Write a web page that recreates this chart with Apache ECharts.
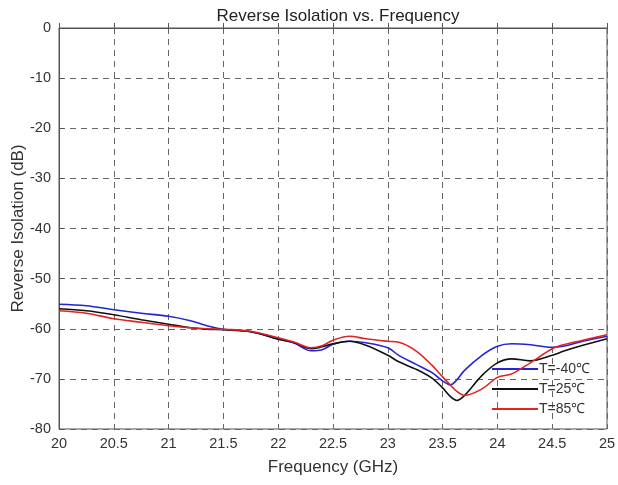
<!DOCTYPE html>
<html>
<head>
<meta charset="utf-8">
<script src="https://cdn.jsdelivr.net/npm/echarts@6/dist/echarts.min.js"></script>
<style>
  html, body { margin: 0; padding: 0; background: #fff; }
  #chart { width: 618px; height: 485px; }
</style>
</head>
<body>
<div id="chart"></div>
<script>
// Frequency sample points (GHz)
const freq = [20, 20.25, 20.5, 20.75, 21, 21.2, 21.35, 21.5, 21.75, 22, 22.15, 22.3, 22.4, 22.5, 22.65, 22.8,
              23, 23.1, 23.25, 23.4, 23.5, 23.57, 23.63, 23.7, 23.86, 24, 24.13, 24.3, 24.5, 24.6, 24.78, 25];

// Reverse isolation (dB) per temperature
const isoMinus40 = [-55.1, -55.4, -56.2, -56.9, -57.5, -58.4, -59.4, -60.1, -60.6, -62.0, -62.9, -64.4, -64.2, -63.1, -62.5, -62.8,
                    -63.8, -65.3, -67.0, -68.7, -70.4, -71.2, -70.2, -68.3, -65.3, -63.5, -63.0, -63.2, -63.7, -63.5, -62.5, -61.5];
const iso25 = [-56.0, -56.4, -57.2, -58.2, -59.1, -59.8, -60.1, -60.2, -60.6, -62.1, -62.8, -64.0, -63.6, -63.0, -62.5, -63.3,
               -65.3, -66.6, -68.0, -69.8, -71.8, -73.5, -74.3, -73.3, -69.3, -66.8, -66.0, -66.4, -65.3, -64.5, -63.3, -62.0];
const iso85 = [-56.4, -56.9, -58.0, -58.7, -59.4, -59.8, -60.0, -60.1, -60.5, -61.8, -62.7, -63.8, -63.4, -62.3, -61.5, -62.0,
               -62.5, -62.7, -64.3, -67.2, -69.6, -71.2, -72.5, -73.3, -72.0, -69.7, -69.0, -66.8, -64.0, -63.2, -62.3, -61.2];

const seriesNames = ['T=-40℃', 'T=25℃', 'T=85℃'];
const seriesColors = ['#2323d8', '#111111', '#e02424'];
const seriesData = [isoMinus40, iso25, iso85];

const FONT = '"Liberation Sans", Arial, sans-serif';
const chart = echarts.init(document.getElementById('chart'), null, { renderer: 'canvas' });

chart.setOption({
  animation: false,
  backgroundColor: '#ffffff',
  title: {
    text: 'Reverse Isolation vs. Frequency',
    left: 333,
    textAlign: 'center',
    top: 3,
    textStyle: { fontFamily: FONT, fontSize: 17, fontWeight: 'normal', color: '#222' }
  },
  legend: {
    orient: 'vertical',
    left: 487,
    top: 357,
    itemWidth: 46,
    itemHeight: 2,
    itemGap: 6,
    icon: 'rect',
    z: 0,
    data: seriesNames,
    textStyle: { fontFamily: FONT, fontSize: 14, color: '#333', padding: [0, 0, 0, -4] }
  },
  grid: {
    left: 59, right: 11, top: 28, bottom: 56,
    outerBoundsMode: 'none',
    containLabel: false,
    show: true, borderColor: '#555', borderWidth: 1, backgroundColor: 'transparent'
  },
  xAxis: {
    type: 'value',
    min: 20, max: 25, interval: 0.5,
    name: 'Frequency (GHz)',
    nameLocation: 'middle',
    nameGap: 30,
    nameMoveOverlap: false,
    nameTextStyle: { fontFamily: FONT, fontSize: 17, color: '#333' },
    axisLine: { show: true, lineStyle: { color: '#555' } },
    axisTick: { show: true, inside: true, length: 5, lineStyle: { color: '#555' } },
    axisLabel: { fontFamily: FONT, fontSize: 14.5, color: '#333', margin: 7 },
    splitLine: { show: true, lineStyle: { color: '#666', width: 1, type: [6, 5] } }
  },
  yAxis: {
    type: 'value',
    min: -80, max: 0, interval: 10,
    name: 'Reverse Isolation (dB)',
    nameLocation: 'middle',
    nameGap: 32,
    nameMoveOverlap: false,
    nameTextStyle: { fontFamily: FONT, fontSize: 17, color: '#333' },
    axisLine: { show: true, lineStyle: { color: '#555' } },
    axisTick: { show: true, inside: true, length: 5, lineStyle: { color: '#555' } },
    axisLabel: { fontFamily: FONT, fontSize: 14.5, color: '#333', margin: 8 },
    splitLine: { show: true, lineStyle: { color: '#666', width: 1, type: [6, 5] } }
  },
  series: seriesNames.map((name, i) => ({
    name: name,
    type: 'line',
    data: freq.map((f, k) => [f, seriesData[i][k]]),
    smooth: 0.35,
    showSymbol: false,
    symbol: 'none',
    color: seriesColors[i],
    lineStyle: { width: 1.6, color: seriesColors[i] }
  }))
});
</script>
</body>
</html>
